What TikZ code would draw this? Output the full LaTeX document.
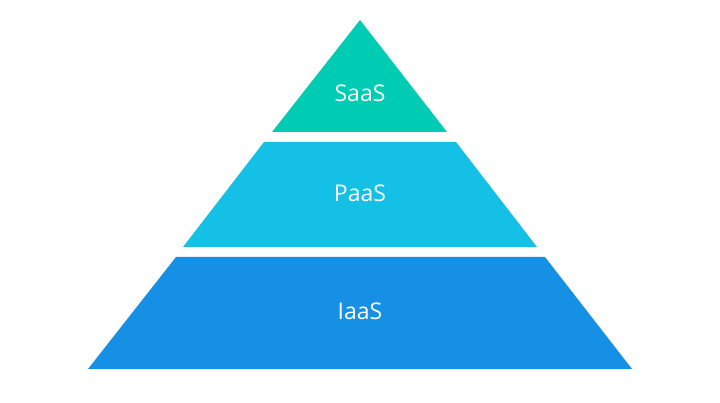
\documentclass[tikz,border=0pt]{standalone}
\usepackage{fontspec}
\setmainfont{Open Sans}
\definecolor{saas}{HTML}{00CCB4}
\definecolor{paas}{HTML}{14C0E6}
\definecolor{iaas}{HTML}{1690E4}
\begin{document}
\begin{tikzpicture}[x=1pt,y=-1pt,lbl/.style={text=white,font=\fontsize{23}{26}\selectfont}]
\useasboundingbox[fill=white] (0,0) rectangle (720,403);
\fill[saas] (360,20) -- (447,132) -- (272,132) -- cycle;
\fill[paas] (264,142) -- (456,142) -- (537,247) -- (183,247) -- cycle;
\fill[iaas] (176,257) -- (545,257) -- (632,369) -- (88,369) -- cycle;
\node[lbl] (s) at (360,93) {SaaS};
\node[lbl] (p) at (360,193) {PaaS};
\node[lbl] (i) at (360,311) {IaaS};
\end{tikzpicture}
\end{document}
